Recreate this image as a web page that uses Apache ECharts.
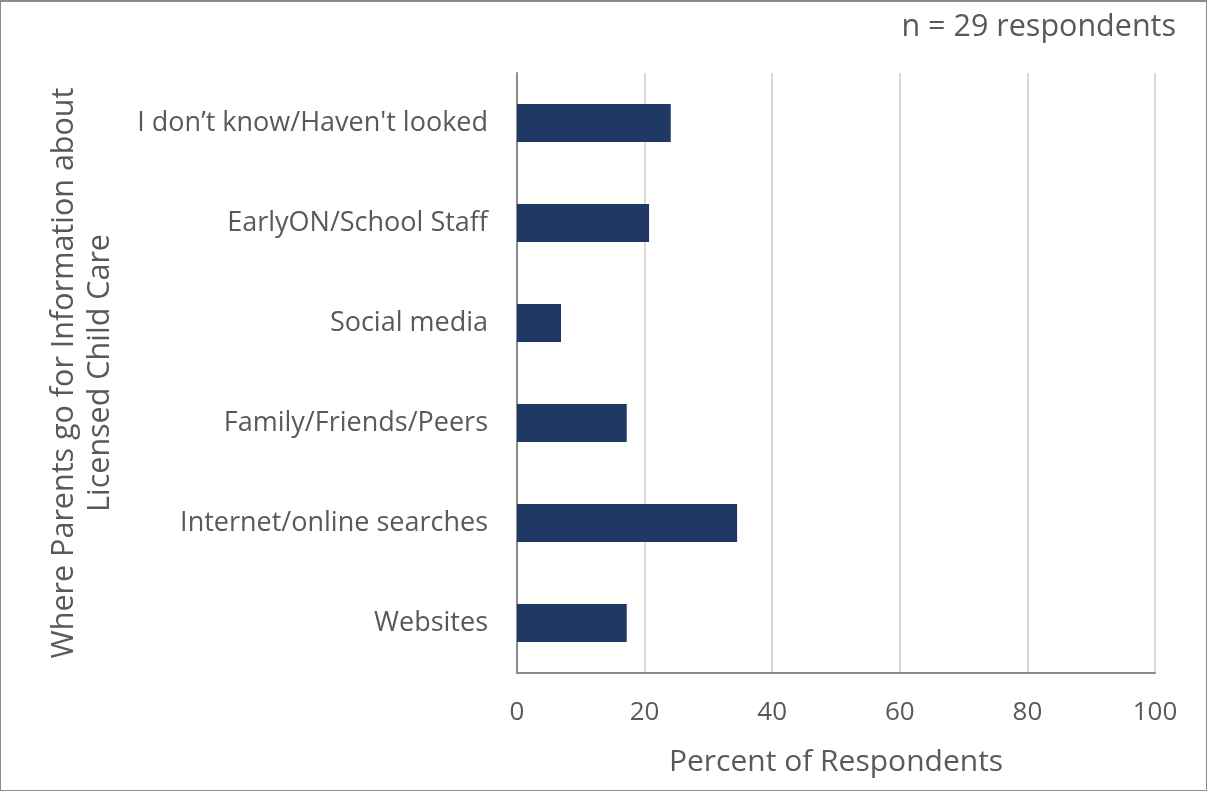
<!DOCTYPE html>
<html>
<head>
<meta charset="utf-8">
<script src="https://cdn.jsdelivr.net/npm/echarts@6/dist/echarts.min.js"></script>
<style>
  html, body { margin: 0; padding: 0; background: #fff; }
  #frame { position: absolute; left: 0; top: 0; width: 1207px; height: 791px; border: 1px solid #8c8c8c; border-top-width: 2px; box-sizing: border-box; }
  #chart { width: 1207px; height: 791px; }
</style>
</head>
<body>
<div id="chart"></div>
<div id="frame"></div>
<script>
// Sources parents use for licensed child care information (n = 29)
const categories = [
  'Websites',
  'Internet/online searches',
  'Family/Friends/Peers',
  'Social media',
  'EarlyON/School Staff',
  'I don\u2019t know/Haven\'t looked'
];
const percents = [17.2, 34.5, 17.2, 6.9, 20.7, 24.1];
const xTicks = [0, 20, 40, 60, 80, 100];

const textColor = '#595959';
const fontFamily = 'Open Sans, Noto Sans, sans-serif';

const chart = echarts.init(document.getElementById('chart'), null, { renderer: 'canvas' });
chart.setOption({
  animation: false,
  textStyle: { fontFamily: fontFamily },
  title: {
    text: 'n = 29 respondents',
    right: 26,
    top: 7,
    textStyle: { color: textColor, fontSize: 30.5, fontWeight: 'normal', fontFamily: fontFamily }
  },
  grid: { left: 517, right: 52, top: 73, bottom: 118, containLabel: false },
  xAxis: {
    type: 'value',
    min: xTicks[0],
    max: xTicks[xTicks.length - 1],
    interval: 20,
    name: 'Percent of Respondents',
    nameLocation: 'middle',
    nameGap: 74,
    nameTextStyle: { color: textColor, fontSize: 30, fontFamily: fontFamily },
    axisLine: { show: true, lineStyle: { color: '#8c8c8c', width: 2 } },
    axisTick: { show: false },
    axisLabel: { color: textColor, fontSize: 26, margin: 27, fontFamily: fontFamily },
    splitLine: { show: true, lineStyle: { color: '#d9d9d9', width: 2 } }
  },
  yAxis: {
    type: 'category',
    data: categories,
    name: 'Where Parents go for Information about\nLicensed Child Care',
    nameLocation: 'middle',
    nameGap: 399,
    nameRotate: 90,
    nameTextStyle: { color: textColor, fontSize: 30.5, lineHeight: 36, fontFamily: fontFamily },
    axisLine: { show: true, lineStyle: { color: '#8c8c8c', width: 2 } },
    axisTick: { show: false },
    axisLabel: { color: textColor, fontSize: 27, margin: 29, fontFamily: fontFamily },
    splitLine: { show: false }
  },
  series: [{
    type: 'bar',
    data: percents,
    barWidth: '38%',
    itemStyle: { color: '#203864' }
  }]
});
</script>
</body>
</html>
